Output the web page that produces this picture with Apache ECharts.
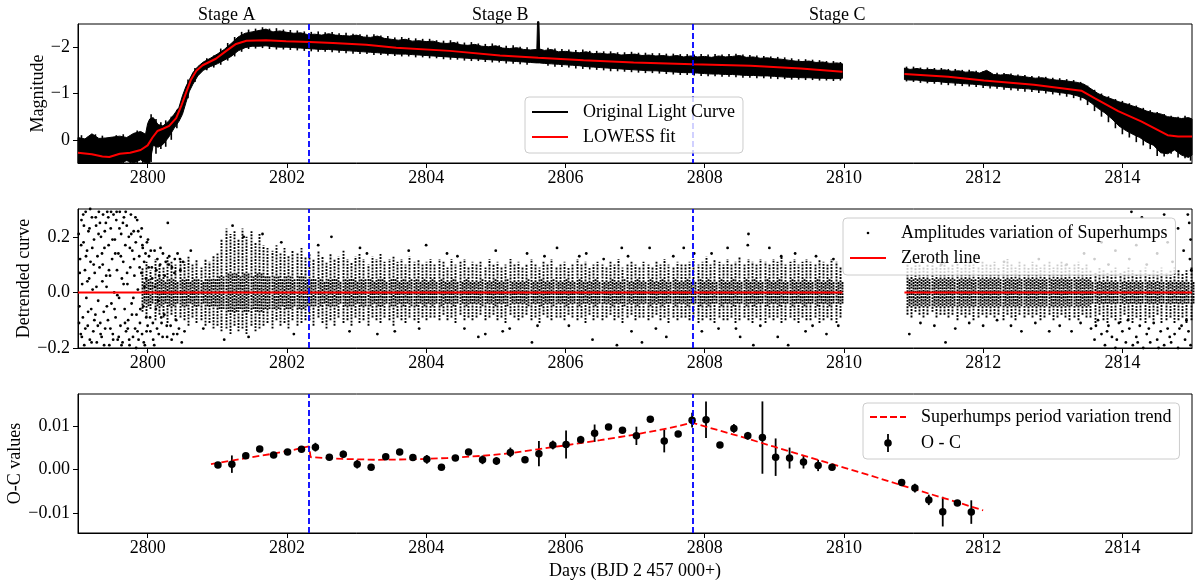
<!DOCTYPE html>
<html><head><meta charset="utf-8">
<script src="https://cdn.jsdelivr.net/npm/echarts@6/dist/echarts.min.js"></script>
<style>html,body{margin:0;padding:0;background:#fff}#c{width:1196px;height:583px}</style>
</head><body><div id="c"></div>
<script>
// ---------------- tick labels / annotations ----------------
const xTickValues = [2800, 2802, 2804, 2806, 2808, 2810, 2812, 2814];
const magTickValues = [-2, -1, 0];
const detTickValues = [-0.2, 0.0, 0.2];
const ocTickValues = [-0.01, 0.00, 0.01];
const stageBoundaries = [2802.32, 2807.83];
const stageLabels = ['Stage A', 'Stage B', 'Stage C'];

// ---------------- panel 1: light curve (envelope of the dense superhump curve) ----------------
const lcTime1 = [2799.00,2799.10,2799.20,2799.30,2799.40,2799.50,2799.60,2799.70,2799.80,2799.90,2799.97,2800.00,
 2800.03,2800.08,2800.15,2800.22,2800.30,2800.38,2800.45,2800.50,2800.55,2800.60,2800.65,2800.72,2800.80,2800.90,
 2801.00,2801.10,2801.20,2801.30,2801.40,2801.50,2801.60,2801.70,2801.80,2801.90,
 2802.00,2802.10,2802.20,2802.30,2802.40,2802.50,2802.60,2802.70,2802.80,2802.90,
 2803.00,2803.10,2803.20,2803.30,2803.40,2803.50,2803.60,2803.70,2803.80,2803.90,
 2804.00,2804.10,2804.20,2804.30,2804.40,2804.50,2804.60,2804.70,2804.80,2804.90,
 2805.00,2805.10,2805.20,2805.30,2805.40,2805.50,2805.59,2805.60,2805.62,2805.63,2805.70,2805.80,2805.90,
 2806.00,2806.10,2806.20,2806.30,2806.40,2806.50,2806.60,2806.70,2806.80,2806.90,
 2807.00,2807.10,2807.20,2807.30,2807.40,2807.50,2807.60,2807.70,2807.80,2807.90,
 2808.00,2808.10,2808.20,2808.30,2808.40,2808.50,2808.60,2808.70,2808.80,2808.90,
 2809.00,2809.10,2809.20,2809.30,2809.40,2809.50,2809.60,2809.70,2809.80,2809.90,2809.98];
const lcBright1 = [-0.05,-0.02,-0.13,-0.03,-0.04,-0.06,-0.08,-0.05,-0.14,-0.18,-0.12,-0.35,
 -0.45,-0.48,-0.33,-0.30,-0.40,-0.55,-0.70,-0.95,-1.15,-1.30,-1.45,-1.58,-1.68,-1.76,
 -1.85,-1.95,-2.08,-2.22,-2.30,-2.33,-2.36,-2.39,-2.33,-2.35,
 -2.32,-2.30,-2.31,-2.27,-2.28,-2.26,-2.29,-2.26,-2.25,-2.24,
 -2.26,-2.22,-2.21,-2.24,-2.19,-2.17,-2.15,-2.17,-2.13,-2.14,
 -2.12,-2.13,-2.09,-2.08,-2.10,-2.05,-2.04,-2.06,-2.02,-2.01,
 -2.03,-1.98,-1.97,-1.99,-1.95,-1.94,-1.95,-2.55,-2.55,-1.96,-1.93,-1.95,-1.90,
 -1.91,-1.89,-1.88,-1.90,-1.86,-1.87,-1.85,-1.86,-1.83,-1.84,
 -1.85,-1.82,-1.83,-1.81,-1.82,-1.80,-1.82,-1.79,-1.81,-1.79,
 -1.80,-1.78,-1.81,-1.79,-1.80,-1.82,-1.78,-1.79,-1.76,-1.77,
 -1.75,-1.74,-1.72,-1.70,-1.69,-1.70,-1.67,-1.68,-1.65,-1.66,-1.64];
const lcFaint1 = [0.50,0.50,0.50,0.50,0.50,0.50,0.50,0.45,0.50,0.43,0.50,0.50,
 0.50,0.12,0.16,0.10,-0.05,-0.25,-0.40,-0.55,-0.80,-1.05,-1.20,-1.38,-1.50,-1.58,
 -1.64,-1.72,-1.80,-1.92,-1.99,-2.02,-2.02,-2.03,-2.01,-2.00,
 -2.00,-1.99,-1.98,-1.97,-1.96,-1.95,-1.95,-1.94,-1.93,-1.92,
 -1.91,-1.90,-1.89,-1.88,-1.87,-1.86,-1.85,-1.85,-1.84,-1.83,
 -1.82,-1.81,-1.80,-1.79,-1.78,-1.77,-1.76,-1.75,-1.74,-1.73,
 -1.72,-1.71,-1.70,-1.69,-1.68,-1.67,-1.66,-1.66,-1.66,-1.66,-1.65,-1.64,-1.63,
 -1.62,-1.61,-1.60,-1.58,-1.57,-1.56,-1.55,-1.54,-1.53,-1.52,
 -1.51,-1.50,-1.49,-1.49,-1.48,-1.47,-1.46,-1.45,-1.45,-1.44,
 -1.43,-1.42,-1.42,-1.41,-1.41,-1.40,-1.39,-1.39,-1.38,-1.38,
 -1.37,-1.36,-1.35,-1.35,-1.34,-1.34,-1.33,-1.33,-1.32,-1.32,-1.33];
const lcTime2 = [2810.87,2810.95,2811.05,2811.15,2811.25,2811.35,2811.45,2811.55,2811.65,2811.75,2811.85,
 2811.95,2812.05,2812.15,2812.25,2812.35,2812.45,2812.55,2812.65,2812.75,2812.85,
 2812.95,2813.05,2813.15,2813.25,2813.35,2813.45,2813.55,2813.65,2813.75,2813.85,
 2813.95,2814.05,2814.15,2814.25,2814.35,2814.45,2814.55,2814.65,2814.75,2814.85,2814.95,2815.00];
const lcBright2 = [-1.55,-1.52,-1.54,-1.51,-1.52,-1.50,-1.51,-1.48,-1.49,-1.46,-1.47,
 -1.44,-1.50,-1.41,-1.40,-1.41,-1.38,-1.37,-1.35,-1.33,-1.34,
 -1.31,-1.29,-1.28,-1.26,-1.24,-1.20,-1.10,-1.00,-0.93,-0.88,
 -0.82,-0.78,-0.73,-0.68,-0.62,-0.58,-0.56,-0.50,-0.48,-0.46,-0.48,-0.45];
const lcFaint2 = [-1.30,-1.29,-1.29,-1.27,-1.26,-1.26,-1.24,-1.23,-1.22,-1.21,-1.20,
 -1.19,-1.17,-1.16,-1.15,-1.13,-1.12,-1.11,-1.10,-1.08,-1.07,
 -1.05,-1.03,-1.01,-0.99,-0.95,-0.90,-0.80,-0.68,-0.58,-0.45,
 -0.30,-0.20,-0.12,-0.05,0.05,0.12,0.28,0.30,0.22,0.33,0.38,0.33];
// individual superhump extremes sticking out of the band: time, brightest, faintest
const lcSpikeTime = [2799.05,2799.15,2799.25,2799.35,2799.45,2799.55,2799.65,2799.75,2799.85,2799.93,
 2800.05,2800.12,2800.19,2800.26,2800.34,2800.42,2800.58,2800.68,2800.85,2800.95,
 2801.05,2801.15,2801.25,2801.35,2801.45,2801.55,2801.65,2801.75,2801.85,2801.95,
 2802.05,2802.15,2802.25,2802.35,2802.45,2802.55,2802.65,2802.75,2802.85,2802.95,
 2803.05,2803.15,2803.25,2803.35,2803.45,2803.55,2803.65,2803.75,2803.85,2803.95,
 2804.05,2804.15,2804.25,2804.35,2804.45,2804.55,2804.65,2804.75,2804.85,2804.95,
 2805.05,2805.15,2805.25,2805.35,2805.45,2805.75,2805.85,2805.95,
 2806.05,2806.15,2806.25,2806.35,2806.45,2806.55,2806.65,2806.75,2806.85,2806.95,
 2807.05,2807.15,2807.25,2807.35,2807.45,2807.55,2807.65,2807.75,2807.85,2807.95,
 2808.05,2808.15,2808.25,2808.35,2808.45,2808.55,2808.65,2808.75,2808.85,2808.95,
 2809.05,2809.15,2809.25,2809.35,2809.45,2809.55,2809.65,2809.75,2809.85,2809.95,
 2810.90,2811.00,2811.10,2811.20,2811.30,2811.40,2811.50,2811.60,2811.70,2811.80,
 2811.90,2812.00,2812.10,2812.20,2812.30,2812.40,2812.50,2812.60,2812.70,2812.80,
 2812.90,2813.00,2813.10,2813.20,2813.30,2813.40,2813.50,2813.60,2813.70,2813.80,
 2813.90,2814.00,2814.10,2814.20,2814.30,2814.40,2814.50,2814.60,2814.70,2814.80,2814.90,2814.98];
const lcSpikeBright = [-0.10,-0.07,-0.12,-0.09,-0.04,-0.10,-0.12,-0.08,-0.20,-0.15,
 -0.55,-0.45,-0.38,-0.42,-0.50,-0.65,-1.30,-1.55,-1.76,-1.82,
 -1.97,-2.09,-2.22,-2.33,-2.38,-2.40,-2.43,-2.40,-2.41,-2.38,
 -2.37,-2.36,-2.34,-2.33,-2.34,-2.32,-2.33,-2.30,-2.31,-2.29,
 -2.28,-2.27,-2.28,-2.25,-2.24,-2.21,-2.22,-2.20,-2.19,-2.18,
 -2.18,-2.15,-2.14,-2.15,-2.12,-2.10,-2.11,-2.08,-2.07,-2.08,
 -2.04,-2.03,-2.04,-2.01,-2.00,-1.99,-1.97,-1.96,
 -1.95,-1.94,-1.95,-1.92,-1.92,-1.91,-1.91,-1.89,-1.89,-1.90,
 -1.88,-1.88,-1.87,-1.87,-1.86,-1.86,-1.85,-1.85,-1.84,-1.85,
 -1.84,-1.85,-1.84,-1.85,-1.86,-1.84,-1.83,-1.82,-1.81,-1.80,
 -1.79,-1.78,-1.76,-1.74,-1.74,-1.73,-1.72,-1.70,-1.70,-1.68,
 -1.58,-1.58,-1.56,-1.56,-1.55,-1.55,-1.53,-1.53,-1.51,-1.51,
 -1.49,-1.48,-1.46,-1.45,-1.44,-1.43,-1.41,-1.40,-1.38,-1.37,
 -1.36,-1.34,-1.33,-1.31,-1.29,-1.25,-1.17,-1.08,-1.00,-0.94,
 -0.88,-0.84,-0.79,-0.74,-0.69,-0.64,-0.60,-0.56,-0.52,-0.50,-0.52,-0.47];
const lcSpikeFaint = [0.50,0.50,0.50,0.50,0.50,0.50,0.50,0.50,0.50,0.50,
 0.48,0.30,0.20,0.15,0.00,-0.25,-0.90,-1.25,-1.50,-1.56,
 -1.62,-1.71,-1.80,-1.90,-1.96,-1.97,-1.98,-1.96,-1.95,-1.95,
 -1.94,-1.93,-1.92,-1.91,-1.90,-1.90,-1.89,-1.88,-1.87,-1.86,
 -1.85,-1.85,-1.83,-1.83,-1.82,-1.81,-1.80,-1.80,-1.78,-1.78,
 -1.76,-1.76,-1.74,-1.73,-1.73,-1.71,-1.70,-1.70,-1.68,-1.67,
 -1.67,-1.65,-1.64,-1.63,-1.62,-1.60,-1.58,-1.57,
 -1.56,-1.54,-1.53,-1.52,-1.51,-1.50,-1.48,-1.48,-1.47,-1.46,
 -1.45,-1.44,-1.44,-1.43,-1.42,-1.41,-1.40,-1.40,-1.39,-1.38,
 -1.37,-1.37,-1.36,-1.36,-1.35,-1.34,-1.34,-1.33,-1.33,-1.32,
 -1.31,-1.31,-1.30,-1.30,-1.29,-1.29,-1.28,-1.28,-1.27,-1.28,
 -1.26,-1.25,-1.23,-1.22,-1.21,-1.19,-1.18,-1.17,-1.16,-1.15,
 -1.14,-1.12,-1.11,-1.10,-1.08,-1.07,-1.06,-1.04,-1.03,-1.01,
 -1.00,-0.98,-0.96,-0.93,-0.90,-0.85,-0.75,-0.62,-0.50,-0.38,
 -0.25,-0.12,-0.05,0.05,0.12,0.20,0.35,0.36,0.30,0.38,0.40,0.45];

// LOWESS fit (null = data gap)
const lowessTime = [2799.00,2799.20,2799.35,2799.45,2799.60,2799.75,2799.90,2800.00,2800.07,2800.14,2800.22,2800.31,
 2800.41,2800.48,2800.55,2800.62,2800.70,2800.79,2800.98,2801.13,2801.27,2801.42,2801.70,2801.99,2802.33,2802.66,
 2803.14,2803.57,2804.34,2805.06,2805.61,2806.26,2806.98,2807.83,2808.66,2809.38,2809.98,
 2810.40,
 2810.87,2811.50,2812.01,2812.73,2813.41,2813.60,2813.94,2814.27,2814.65,2814.80,2815.00];
const lowessMag = [0.28,0.31,0.36,0.37,0.30,0.28,0.22,0.12,-0.05,-0.19,-0.24,-0.30,
 -0.47,-0.72,-1.01,-1.29,-1.49,-1.61,-1.75,-1.92,-2.07,-2.14,-2.15,-2.13,-2.11,-2.09,
 -2.05,-1.99,-1.92,-1.82,-1.77,-1.72,-1.67,-1.63,-1.60,-1.54,-1.47,
 null,
 -1.42,-1.36,-1.28,-1.19,-1.06,-0.90,-0.62,-0.40,-0.10,-0.07,-0.07];

// ---------------- panel 2: detrended curve ----------------
// superhump columns: time, upper / lower extent and dense-core half width (units of 0.01)
const detColTime = [2799.92,2799.98,2800.04,2800.10,2800.16,2800.22,2800.28,2800.34,2800.40,2800.46,
 2800.52,2800.58,2800.64,2800.70,2800.76,2800.82,2800.88,2800.94,2801.00,2801.06,
 2801.12,2801.18,2801.24,2801.30,2801.36,2801.42,2801.48,2801.54,2801.60,2801.66,
 2801.72,2801.78,2801.84,2801.90,2801.96,2802.02,2802.08,2802.14,2802.20,2802.26,
 2802.32,2802.38,2802.44,2802.50,2802.56,2802.62,2802.68,2802.74,2802.80,2802.86,
 2802.92,2802.98,2803.04,2803.10,2803.16,2803.22,2803.28,2803.34,2803.40,2803.46,
 2803.52,2803.58,2803.64,2803.70,2803.76,2803.82,2803.88,2803.94,2804.00,2804.06,
 2804.12,2804.18,2804.24,2804.30,2804.36,2804.42,2804.48,2804.54,2804.60,2804.66,
 2804.72,2804.78,2804.84,2804.90,2804.96,2805.02,2805.08,2805.14,2805.20,2805.26,
 2805.32,2805.38,2805.44,2805.50,2805.56,2805.62,2805.68,2805.74,2805.80,2805.86,
 2805.92,2805.98,2806.04,2806.10,2806.16,2806.22,2806.28,2806.34,2806.40,2806.46,
 2806.52,2806.58,2806.64,2806.70,2806.76,2806.82,2806.88,2806.94,2807.00,2807.06,
 2807.12,2807.18,2807.24,2807.30,2807.36,2807.42,2807.48,2807.54,2807.60,2807.66,
 2807.72,2807.78,2807.84,2807.90,2807.96,2808.02,2808.08,2808.14,2808.20,2808.26,
 2808.32,2808.38,2808.44,2808.50,2808.56,2808.62,2808.68,2808.74,2808.80,2808.86,
 2808.92,2808.98,2809.04,2809.10,2809.16,2809.22,2809.28,2809.34,2809.40,2809.46,
 2809.52,2809.58,2809.64,2809.70,2809.76,2809.82,2809.88,2809.94,
 2810.90,2810.96,2811.02,2811.08,2811.14,2811.20,2811.26,2811.32,2811.38,2811.44,
 2811.50,2811.56,2811.62,2811.68,2811.74,2811.80,2811.86,2811.92,2811.98,2812.04,
 2812.10,2812.16,2812.22,2812.28,2812.34,2812.40,2812.46,2812.52,2812.58,2812.64,
 2812.70,2812.76,2812.82,2812.88,2812.94,2813.00,2813.06,2813.12,2813.18,2813.24,
 2813.30,2813.36,2813.42,2813.48,2813.54,2813.60,2813.66,2813.72,2813.78,2813.84,
 2813.90,2813.96,2814.02,2814.08,2814.14,2814.20,2814.26,2814.32,2814.38,2814.44,
 2814.50,2814.56,2814.62,2814.68,2814.74,2814.80,2814.86,2814.92,2814.98];
const detColHi = [9,11,8,12,10,9,13,11,10,12, 11,13,10,12,9,12,11,13,14,19, 23,21,22,19,23,20,22,18,21,17,
 16,15,17,14,16,13,15,14,16,13, 14,12,15,13,11,14,12,13,15,12, 11,13,14,12,10,13,12,14,11,12,
 13,11,12,10,13,11,12,10,11,12, 10,12,11,9,12,10,11,12,9,11, 10,11,9,12,10,11,9,10,12,10,
 11,9,10,12,10,9,11,10,12,9, 10,11,9,10,12,10,11,9,10,11, 10,9,11,10,12,9,10,11,10,9,
 11,10,9,11,10,12,10,9,11,10, 10,11,12,10,11,13,10,12,11,10, 12,10,11,13,10,12,11,10,12,11,
 10,12,11,13,10,11,12,10,11,12, 11,10,12,11,10,12,11,9,
 10,9,11,10,9,10,11,9,10,11, 9,10,11,9,10,11,10,9,11,10, 10,11,9,10,12,10,9,11,10,9,
 11,10,9,10,11,9,10,11,10,9, 10,11,9,10, 8,7,9,8,7,8,9,7,8,9,8,7,8,9,7,8,8,9,7,8,9,8,7,8,9];
const detColLo = [-7,-9,-6,-10,-8,-9,-11,-8,-10,-9, -10,-12,-9,-11,-10,-12,-11,-13,-12,-14, -13,-15,-12,-14,-13,-15,-12,-14,-13,-12,
 -11,-13,-10,-12,-11,-13,-10,-12,-11,-10, -10,-12,-9,-11,-13,-10,-12,-9,-11,-10, -12,-9,-11,-10,-12,-9,-10,-11,-9,-10,
 -12,-9,-10,-11,-9,-10,-11,-9,-10,-9, -9,-10,-8,-10,-9,-11,-8,-10,-9,-10, -9,-8,-10,-9,-8,-10,-9,-11,-8,-9,
 -10,-9,-8,-10,-9,-11,-8,-9,-10,-9, -9,-10,-8,-9,-10,-9,-11,-8,-10,-9, -10,-9,-8,-10,-9,-11,-9,-8,-10,-9,
 -9,-10,-9,-8,-10,-9,-11,-9,-10,-9, -9,-10,-9,-11,-10,-9,-10,-11,-9,-10, -10,-9,-11,-10,-9,-10,-11,-9,-10,-11,
 -9,-10,-9,-11,-10,-9,-10,-11,-9,-10, -10,-9,-11,-10,-9,-10,-11,-9,
 -8,-9,-7,-8,-9,-8,-7,-9,-8,-8, -9,-8,-10,-8,-9,-8,-10,-9,-8,-9, -8,-9,-8,-10,-8,-9,-10,-8,-9,-8,
 -9,-8,-10,-9,-8,-10,-9,-8,-9,-10, -9,-10,-8,-9, -9,-11,-8,-10,-11,-9,-10,-11,-8,-10,-11,-9,-10,-11,-9,-10,-8,-11,-10,-9,-11,-10,-9,-11,-10];
const detColCore = [4,5,4,5,5,4,5,5,4,5, 5,4,5,5,4,5,5,5,6,6, 7,7,7,6,7,7,6,7,7,6,
 6,6,6,5,6,6,5,6,6,5, 5,5,5,4,5,5,5,4,5,5, 5,4,5,5,5,4,5,5,4,5,
 5,4,5,4,5,5,4,5,4,5, 4,5,4,4,5,4,4,5,4,4, 4,5,4,4,5,4,4,5,4,4,
 4,4,5,4,4,5,4,4,5,4, 4,5,4,4,5,4,4,4,5,4, 4,4,5,4,4,5,4,4,5,4,
 4,5,4,4,5,4,4,5,4,4, 5,4,4,5,4,5,4,4,5,4, 4,5,4,4,5,4,5,4,4,5,
 4,4,5,4,4,5,4,4,5,4, 4,5,4,4,5,4,4,4,
 5,5,5,5,5,5,5,5,5,5, 5,5,5,5,5,5,5,5,5,5, 5,5,5,5,5,5,5,5,5,5,
 5,5,5,5,5,5,5,5,5,5, 5,5,5,5, 4,4,4,4,4,4,4,4,4,4,4,4,4,4,4,4,4,4,4,4,4,4,4,4,4];
// individual scattered detrended points [time, value]
const detScatter = [
 [2799.01,0.21],[2799.02,-0.05],[2799.03,0.12],[2799.04,-0.15],[2799.05,0.26],[2799.06,0.03],[2799.07,-0.09],[2799.08,0.18],[2799.09,-0.19],[2799.10,0.08],
 [2799.11,0.29],[2799.12,-0.02],[2799.13,0.15],[2799.14,-0.12],[2799.15,0.22],[2799.16,0.05],[2799.17,-0.17],[2799.18,0.11],[2799.19,-0.06],[2799.20,0.27],
 [2799.21,0.01],[2799.22,-0.14],[2799.23,0.19],[2799.24,0.07],[2799.25,-0.08],[2799.26,0.24],[2799.27,-0.18],[2799.28,0.13],[2799.29,-0.03],[2799.30,0.29],
 [2799.31,0.09],[2799.32,-0.11],[2799.33,0.20],[2799.34,-0.16],[2799.35,0.04],[2799.36,0.28],[2799.37,-0.07],[2799.38,0.16],[2799.39,-0.13],[2799.40,0.25],
 [2799.41,0.02],[2799.42,0.29],[2799.43,-0.10],[2799.44,0.17],[2799.45,-0.19],[2799.46,0.06],[2799.47,0.23],[2799.48,-0.04],[2799.49,0.12],[2799.50,-0.15],
 [2799.51,0.28],[2799.52,0.00],[2799.53,0.19],[2799.54,-0.09],[2799.55,0.26],[2799.56,0.08],[2799.57,-0.17],[2799.58,0.14],[2799.59,-0.02],[2799.60,0.29],
 [2799.61,-0.12],[2799.62,0.21],[2799.63,0.05],[2799.64,-0.18],[2799.65,0.11],[2799.66,0.27],[2799.67,-0.06],[2799.68,0.17],[2799.69,-0.14],[2799.70,0.24],
 [2799.71,0.03],[2799.72,-0.10],[2799.73,0.20],[2799.74,-0.19],[2799.75,0.09],[2799.76,0.28],[2799.77,-0.04],[2799.78,0.15],[2799.79,-0.16],[2799.80,0.22],
 [2799.81,0.06],[2799.82,-0.13],[2799.83,0.18],[2799.84,-0.08],[2799.85,0.26],[2799.86,0.01],[2799.87,-0.17],[2799.88,0.13],[2799.89,-0.11],[2799.90,0.20],
 [2799.91,0.07],[2799.92,-0.15],[2799.93,0.16],[2799.94,-0.05],[2799.95,0.11],[2799.96,-0.19],[2799.97,0.14],[2799.98,-0.09],[2799.99,0.18],[2800.00,-0.12],
 [2799.015,-0.11],[2799.045,0.17],[2799.075,0.28],[2799.105,-0.13],[2799.135,0.04],[2799.165,0.23],[2799.195,-0.18],[2799.225,0.10],[2799.255,0.27],[2799.285,-0.12],
 [2799.315,0.25],[2799.345,0.14],[2799.375,-0.19],[2799.405,0.06],[2799.435,0.27],[2799.465,-0.13],[2799.495,0.19],[2799.525,-0.06],[2799.555,0.29],[2799.585,-0.16],
 [2799.615,0.13],[2799.645,0.25],[2799.675,-0.11],[2799.705,0.07],[2799.735,-0.17],[2799.765,0.21],[2799.795,-0.02],[2799.825,0.27],[2799.855,-0.14],[2799.885,0.09],
 [2799.915,0.23],[2799.945,-0.18],[2799.975,0.05],[2800.005,0.19],[2800.035,-0.09],[2800.065,0.05],[2800.095,-0.19],[2800.125,0.08],[2800.155,-0.03],[2800.185,0.16],
 [2800.215,-0.16],[2800.245,0.06],[2800.275,-0.12],[2800.305,0.10],[2800.345,-0.17],[2800.385,0.07],[2800.425,-0.15],[2800.465,0.12],
 [2799.025,0.07],[2799.055,-0.16],[2799.085,0.24],[2799.115,0.13],[2799.145,-0.07],[2799.175,0.30],[2799.205,0.16],[2799.235,-0.10],[2799.265,0.02],[2799.295,0.21],
 [2799.325,-0.15],[2799.355,0.10],[2799.385,0.22],[2799.415,-0.05],[2799.445,0.08],[2799.475,0.29],[2799.505,-0.17],[2799.535,0.14],[2799.565,-0.01],[2799.595,0.23],
 [2799.625,-0.19],[2799.655,0.03],[2799.685,0.29],[2799.715,-0.13],[2799.745,0.16],[2799.775,-0.08],[2799.805,0.12],[2799.835,-0.20],[2799.865,0.22],[2799.895,-0.06],
 [2799.925,0.17],[2799.955,0.02],[2799.985,-0.14],[2800.015,0.09],[2800.045,0.15],[2800.075,-0.11],[2800.105,0.02],[2800.135,-0.13],[2800.165,0.06],[2800.195,-0.09],
 [2800.02,0.13],[2800.04,-0.14],[2800.06,0.09],[2800.08,-0.17],[2800.10,0.15],[2800.12,-0.06],[2800.14,0.12],[2800.16,-0.15],[2800.18,0.10],[2800.20,-0.11],
 [2800.22,0.14],[2800.24,-0.08],[2800.26,0.11],[2800.28,-0.16],[2800.29,0.25],[2800.31,0.13],[2800.33,-0.12],[2800.35,0.09],[2800.37,-0.15],[2800.39,0.12],
 [2800.41,-0.10],[2800.43,0.14],[2800.45,-0.13],[2800.47,0.08],[2800.49,-0.18],[2800.51,0.11],[2800.53,-0.14],
 [2800.62,0.15],[2800.80,-0.13],[2801.10,-0.17],[2801.22,0.24],[2801.45,-0.16],[2801.65,0.21],[2801.38,0.20],[2801.92,0.18],[2802.10,-0.15],[2802.64,0.20],
 [2802.45,0.17],[2802.90,-0.14],[2803.05,0.16],[2803.30,-0.15],[2803.55,-0.14],[2803.75,0.15],[2804.00,0.17],[2804.30,0.14],[2804.55,-0.13],[2804.75,-0.16],
 [2804.85,-0.15],[2805.00,0.15],[2805.20,-0.13],[2805.52,-0.18],[2805.45,0.14],[2805.70,0.13],[2805.88,0.16],[2806.05,-0.12],[2806.20,0.13],[2806.39,-0.17],
 [2806.55,0.12],[2806.74,-0.19],[2806.81,0.16],[2806.95,-0.14],[2807.10,-0.18],[2807.21,0.16],[2807.45,-0.16],[2807.55,0.13],[2807.70,0.16],[2807.96,-0.14],
 [2808.10,0.14],[2808.20,-0.13],[2808.33,0.16],[2808.51,-0.16],[2808.62,0.17],[2808.63,0.21],[2808.70,-0.19],[2808.80,-0.12],[2808.93,0.16],[2809.05,-0.16],
 [2809.20,-0.19],[2809.30,0.14],[2809.45,-0.14],[2809.60,0.13],[2809.75,-0.15],[2809.85,0.12],[2809.92,-0.12],
 [2803.15,0.14],[2803.90,-0.13],[2804.45,0.13],[2805.10,-0.14],[2805.60,-0.12],[2806.30,0.14],[2806.90,0.13],[2807.30,-0.13],[2807.85,0.14],[2808.45,-0.13],
 [2809.10,0.13],[2809.55,-0.12],
 [2810.94,-0.15],[2811.10,-0.11],[2811.30,-0.12],[2811.46,-0.18],[2811.60,-0.13],[2811.80,-0.11],[2812.00,-0.12],[2812.20,-0.10],[2812.40,-0.12],[2812.55,-0.14],
 [2812.75,-0.11],[2812.95,-0.14],[2813.10,-0.12],[2813.27,-0.14],[2813.40,-0.11],
 [2811.00,0.12],[2811.40,0.10],[2811.90,0.13],[2812.30,0.11],[2812.80,0.12],[2813.20,0.10],[2813.45,0.14],
 [2813.55,-0.13],[2813.60,-0.17],[2813.65,-0.10],[2813.70,-0.15],[2813.75,-0.19],[2813.80,-0.12],[2813.85,-0.16],[2813.90,-0.20],[2813.95,-0.11],[2814.00,-0.14],
 [2814.05,-0.18],[2814.10,-0.13],[2814.15,-0.19],[2814.20,-0.16],[2814.25,-0.12],[2814.30,-0.20],[2814.35,-0.15],[2814.40,-0.18],[2814.45,-0.11],[2814.50,-0.17],
 [2814.55,-0.14],[2814.60,-0.19],[2814.65,-0.13],[2814.70,-0.18],[2814.75,-0.15],[2814.80,-0.20],[2814.85,-0.12],[2814.90,-0.17],[2814.95,-0.14],[2814.98,-0.19],
 [2813.62,-0.12],[2813.78,-0.14],[2813.92,-0.17],[2814.08,-0.10],[2814.22,-0.18],[2814.38,-0.13],[2814.52,-0.20],[2814.68,-0.16],[2814.82,-0.13],[2814.92,-0.10],
 [2813.60,0.12],[2813.70,0.18],[2813.80,0.10],[2813.90,0.15],[2814.00,0.22],[2814.10,0.12],[2814.13,0.29],[2814.20,0.17],[2814.28,0.27],[2814.35,0.10],
 [2814.45,0.20],[2814.50,0.14],[2814.60,0.28],[2814.65,0.18],[2814.72,0.11],[2814.80,0.23],[2814.88,0.15],[2814.96,0.25],[2814.97,0.12],[2814.98,0.19],
 [2814.99,0.08],[2814.94,0.28]
];
const zeroLineTime = [2799.00, 2809.98, 2810.40, 2810.87, 2815.00];
const zeroLineValue = [0, 0, null, 0, 0];

// ---------------- panel 3: O-C ----------------
const ocTime = [2801.01,2801.21,2801.41,2801.61,2801.81,2802.01,2802.21,2802.41,2802.61,2802.81,
 2803.01,2803.21,2803.42,2803.62,2803.81,2804.01,2804.22,2804.42,2804.61,2804.81,
 2805.01,2805.21,2805.42,2805.62,2805.82,2806.01,2806.22,2806.42,2806.62,2806.82,
 2807.02,2807.22,2807.42,2807.62,2807.82,2808.02,2808.22,2808.42,2808.62,2808.83,
 2809.02,2809.22,2809.42,2809.63,2809.83,2810.83,2811.02,2811.22,2811.42,2811.63,2811.83];
const ocValue = [0.0010,0.0012,0.0031,0.0047,0.0033,0.0040,0.0046,0.0051,0.0028,0.0035,
 0.0012,0.0005,0.0029,0.0040,0.0027,0.0023,0.0005,0.0026,0.0040,0.0022,
 0.0019,0.0039,0.0022,0.0036,0.0056,0.0057,0.0068,0.0083,0.0097,0.0090,
 0.0077,0.0115,0.0065,0.0081,0.0113,0.0114,0.0056,0.0094,0.0077,0.0073,
 0.0028,0.0026,0.0017,0.0009,0.0005,-0.0030,-0.0043,-0.0070,-0.0097,-0.0077,-0.0098];
const ocError = [0.0007,0.0020,0.0005,0.0006,0.0004,0.0004,0.0004,0.0010,0.0004,0.0008,
 0.0010,0.0003,0.0004,0.0004,0.0004,0.0010,0.0003,0.0006,0.0004,0.0010,
 0.0009,0.0011,0.0003,0.0029,0.0010,0.0032,0.0009,0.0020,0.0003,0.0004,
 0.0021,0.0003,0.0026,0.0003,0.0017,0.0042,0.0004,0.0010,0.0009,0.0083,
 0.0043,0.0024,0.0015,0.0013,0.0003,0.0004,0.0010,0.0012,0.0034,0.0003,0.0027];
const trendTime = [2800.91,2801.20,2801.50,2801.80,2802.10,2802.32,2802.34,2802.80,2803.30,2803.80,2804.30,2804.80,
 2805.20,2805.60,2806.00,2806.50,2807.00,2807.50,2807.82,2808.50,2809.00,2809.50,2810.00,2810.50,2811.00,2811.50,2812.00];
const trendValue = [0.0012,0.0020,0.0028,0.0036,0.0045,0.0053,0.0028,0.0024,0.0022,0.0023,0.0026,0.0031,
 0.0037,0.0046,0.0055,0.0067,0.0080,0.0095,0.0107,0.0076,0.0052,0.0028,0.0004,-0.0020,-0.0045,-0.0069,-0.0094];

// ---------------- chart ----------------
const FONT = '"Liberation Serif", "Times New Roman", "DejaVu Serif", serif';
const chart = echarts.init(document.getElementById('c'));
const fmt = d => v => (v < 0 ? '\u2212' : '') + Math.abs(v).toFixed(d);

const GRID = {left: 78, width: 1114, height: 139, show: true, borderColor: '#000', borderWidth: 1,
  containLabel: false, outerBoundsMode: 'none'};
const grids = [Object.assign({top: 24}, GRID), Object.assign({top: 209}, GRID), Object.assign({top: 394}, GRID)];

function xAxisFor(i) {
  const ax = {
    type: 'value', gridIndex: i, min: 2799, max: 2815,
    axisLine: {show: true, onZero: false, lineStyle: {color: '#000', width: 1}},
    axisTick: {show: true, length: 5, customValues: xTickValues, lineStyle: {color: '#000', width: 1}},
    axisLabel: {customValues: xTickValues, fontSize: 18, fontFamily: FONT, color: '#000', margin: 6,
      formatter: v => String(v)},
    splitLine: {show: false}
  };
  if (i === 2) {
    ax.name = 'Days (BJD 2 457 000+)';
    ax.nameLocation = 'middle';
    ax.nameGap = 29;
    ax.nameMoveOverlap = false;
    ax.nameTextStyle = {fontSize: 18, fontFamily: FONT, color: '#000'};
  }
  return ax;
}
function yAxisFor(i, min, max, ticks, dec, name, gap, inverse) {
  return {
    type: 'value', gridIndex: i, min: min, max: max, inverse: !!inverse,
    name: name, nameLocation: 'middle', nameGap: gap, nameMoveOverlap: false,
    nameTextStyle: {fontSize: 18, fontFamily: FONT, color: '#000'},
    axisLine: {show: true, onZero: false, lineStyle: {color: '#000', width: 1}},
    axisTick: {show: true, length: 5, customValues: ticks, lineStyle: {color: '#000', width: 1}},
    axisLabel: {customValues: ticks, fontSize: 18, fontFamily: FONT, color: '#000', margin: 8, formatter: fmt(dec)},
    splitLine: {show: false}
  };
}

const blueLines = {
  silent: true, symbol: ['none', 'none'], label: {show: false},
  lineStyle: {color: '#0000ff', type: [6, 3], width: 1.8},
  emphasis: {disabled: true},
  data: stageBoundaries.map(v => ({xAxis: v}))
};

const lcSegments = [
  {t: lcTime1, b: lcBright1, f: lcFaint1},
  {t: lcTime2, b: lcBright2, f: lcFaint2}
];

const ICON_LINE = 'path://M0,0M46,14M0,6.1h36v1.8h-36z';
const ICON_DOT = 'path://M0,0M46,14M16.7,7a1.3,1.3 0 1,1 2.6,0a1.3,1.3 0 1,1 -2.6,0z';
const ICON_DASH = 'path://M0,0M46,20M0,9.1h7v1.8h-7zM10,9.1h7v1.8h-7zM20,9.1h7v1.8h-7zM30,9.1h6v1.8h-6z';
const ICON_ERR = 'path://M0,0M46,20M17.1,1h1.8v18h-1.8zM14.2,10a3.8,3.8 0 1,1 7.6,0a3.8,3.8 0 1,1 -7.6,0z';

const LEGEND_BASE = {
  orient: 'vertical', itemWidth: 46, itemHeight: 14, itemGap: 5, selectedMode: false,
  backgroundColor: 'rgba(255,255,255,0.8)', borderColor: '#cccccc', borderWidth: 1, borderRadius: 4,
  itemStyle: {borderWidth: 0},
  textStyle: {fontSize: 18, fontFamily: FONT, color: '#000', lineHeight: 20},
  z: 10
};

const option = {
  backgroundColor: '#fff',
  animation: false,
  textStyle: {fontFamily: FONT},
  grid: grids,
  xAxis: [xAxisFor(0), xAxisFor(1), xAxisFor(2)],
  yAxis: [
    yAxisFor(0, -2.5, 0.5, magTickValues, 0, 'Magnitude', 31, true),
    yAxisFor(1, -0.2, 0.3, detTickValues, 1, 'Detrended curve', 45, false),
    yAxisFor(2, -0.0146, 0.0173, ocTickValues, 2, 'O-C values', 54, false)
  ],
  legend: [
    Object.assign({}, LEGEND_BASE, {left: 525, top: 97, padding: [5, 8, 6, 7],
      data: [{name: 'Original Light Curve', icon: ICON_LINE}, {name: 'LOWESS fit', icon: ICON_LINE}]}),
    Object.assign({}, LEGEND_BASE, {left: 843, top: 218, padding: [5, 8, 7, 7],
      data: [{name: 'Amplitudes variation of Superhumps', icon: ICON_DOT}, {name: 'Zeroth line', icon: ICON_LINE}]}),
    Object.assign({}, LEGEND_BASE, {left: 863, top: 403, padding: [4, 8, 6, 7], itemHeight: 20, itemGap: 6,
      data: [{name: 'Superhumps period variation trend', icon: ICON_DASH}, {name: 'O - C', icon: ICON_ERR}]})
  ],
  graphic: stageLabels.map((s, i) => ({
    type: 'text', left: [198, 472, 809][i], top: 6, silent: true,
    style: {text: s, fontSize: 18, fontFamily: FONT, fill: '#000'}
  })),
  series: [
    {
      name: 'Original Light Curve', type: 'custom', xAxisIndex: 0, yAxisIndex: 0,
      itemStyle: {color: '#000'}, silent: true, z: 2,
      data: [[2800, -1], [2812, -1]], encode: {x: 0, y: 1},
      renderItem: function (params, api) {
        const seg = lcSegments[params.dataIndex];
        const pts = [];
        for (let i = 0; i < seg.t.length; i++) pts.push(api.coord([seg.t[i], seg.b[i]]));
        for (let i = seg.t.length - 1; i >= 0; i--) pts.push(api.coord([seg.t[i], seg.f[i]]));
        return {type: 'polygon', shape: {points: pts}, style: {fill: '#000', stroke: '#000', lineWidth: 1}};
      }
    },
    {
      name: 'Original Light Curve', type: 'custom', xAxisIndex: 0, yAxisIndex: 0,
      itemStyle: {color: '#000'}, silent: true, z: 2, clip: true,
      data: lcSpikeTime.map((t, i) => [t, lcSpikeBright[i], lcSpikeFaint[i]]),
      encode: {x: 0, y: [1, 2]},
      renderItem: function (params, api) {
        const p1 = api.coord([api.value(0), api.value(1)]);
        const p2 = api.coord([api.value(0), api.value(2)]);
        return {type: 'line', shape: {x1: p1[0], y1: p1[1], x2: p2[0], y2: p2[1]},
                style: {stroke: '#000', lineWidth: 1.6}};
      }
    },
    {
      name: 'LOWESS fit', type: 'line', xAxisIndex: 0, yAxisIndex: 0, color: '#ff0000',
      symbol: 'none', connectNulls: false, silent: true, z: 3,
      lineStyle: {color: '#ff0000', width: 2},
      data: lowessTime.map((t, i) => [t, lowessMag[i] === null ? '-' : lowessMag[i]]),
      markLine: blueLines
    },
    {
      name: 'Amplitudes variation of Superhumps', type: 'custom', xAxisIndex: 1, yAxisIndex: 1,
      itemStyle: {color: '#000'}, silent: true, z: 2,
      data: detColTime.map((t, i) => [t, detColLo[i] / 100, detColHi[i] / 100, detColCore[i] / 100]),
      encode: {x: 0, y: [1, 2]},
      renderItem: function (params, api) {
        const x = api.value(0);
        const a = api.coord([x, api.value(1)]);
        const b = api.coord([x, api.value(2)]);
        const c1 = api.coord([x, -api.value(3)]);
        const c2 = api.coord([x, api.value(3)]);
        const px = Math.round(a[0]) + 0.5;
        return {type: 'group', children: [
          {type: 'line', shape: {x1: px, y1: a[1], x2: px, y2: b[1]},
           style: {stroke: '#000', lineWidth: 1.9, lineDash: [1.9, 1.3]}},
          {type: 'line', shape: {x1: px + 2, y1: c1[1], x2: px + 2, y2: c2[1]},
           style: {stroke: '#000', lineWidth: 1.9, lineDash: [1.9, 0.9]}}
        ]};
      }
    },
    {
      name: 'Amplitudes variation of Superhumps', type: 'scatter', xAxisIndex: 1, yAxisIndex: 1,
      symbolSize: 2.8, itemStyle: {color: '#000', opacity: 1}, silent: true, z: 2,
      data: detScatter
    },
    {
      name: 'Zeroth line', type: 'line', xAxisIndex: 1, yAxisIndex: 1, color: '#ff0000',
      symbol: 'none', connectNulls: false, silent: true, z: 3,
      lineStyle: {color: '#ff0000', width: 2},
      data: zeroLineTime.map((t, i) => [t, zeroLineValue[i] === null ? '-' : zeroLineValue[i]]),
      markLine: blueLines
    },
    {
      name: 'O - C', type: 'custom', xAxisIndex: 2, yAxisIndex: 2,
      itemStyle: {color: '#000'}, silent: true, z: 3,
      data: ocTime.map((t, i) => [t, ocValue[i] - ocError[i], ocValue[i] + ocError[i]]),
      encode: {x: 0, y: [1, 2]},
      renderItem: function (params, api) {
        const p1 = api.coord([api.value(0), api.value(1)]);
        const p2 = api.coord([api.value(0), api.value(2)]);
        return {type: 'line', shape: {x1: p1[0], y1: p1[1], x2: p2[0], y2: p2[1]},
                style: {stroke: '#000', lineWidth: 1.8}};
      }
    },
    {
      name: 'O - C', type: 'scatter', xAxisIndex: 2, yAxisIndex: 2,
      symbolSize: 7.5, itemStyle: {color: '#000', opacity: 1}, silent: true, z: 4,
      data: ocTime.map((t, i) => [t, ocValue[i]])
    },
    {
      name: 'Superhumps period variation trend', type: 'line', xAxisIndex: 2, yAxisIndex: 2, color: '#ff0000',
      symbol: 'none', silent: true, z: 3,
      lineStyle: {color: '#ff0000', width: 1.8, type: [7, 3.5]},
      data: trendTime.map((t, i) => [t, trendValue[i]]),
      markLine: blueLines
    }
  ]
};
chart.setOption(option);
</script>
</body></html>
